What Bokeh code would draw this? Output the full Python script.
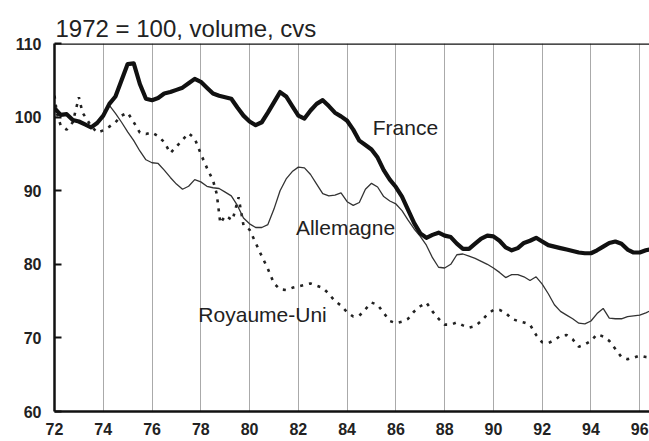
from bokeh.plotting import figure
from bokeh.models import Range1d, FixedTicker, Span, Label
from bokeh.embed import file_html
from bokeh.resources import INLINE

# ---- data ----
years_fr = [72.0, 72.25, 72.5, 72.75, 73.0, 73.25, 73.5, 73.75, 74.0, 74.25, 74.5, 74.75,
            75.0, 75.25, 75.5, 75.75, 76.0, 76.25, 76.5, 76.75, 77.0, 77.25, 77.5, 77.75,
            78.0, 78.25, 78.5, 78.75, 79.0, 79.25, 79.5, 79.75, 80.0, 80.25, 80.5, 80.75,
            81.0, 81.25, 81.5, 81.75, 82.0, 82.25, 82.5, 82.75, 83.0, 83.25, 83.5, 83.75,
            84.0, 84.25, 84.5, 84.75, 85.0, 85.25, 85.5, 85.75, 86.0, 86.25, 86.5, 86.75,
            87.0, 87.25, 87.5, 87.75, 88.0, 88.25, 88.5, 88.75, 89.0, 89.25, 89.5, 89.75,
            90.0, 90.25, 90.5, 90.75, 91.0, 91.25, 91.5, 91.75, 92.0, 92.25, 92.5, 92.75,
            93.0, 93.25, 93.5, 93.75, 94.0, 94.25, 94.5, 94.75, 95.0, 95.25, 95.5, 95.75,
            96.0, 96.25, 96.5]
france = [101.2, 100.3, 100.4, 99.6, 99.4, 99.0, 98.6, 99.2, 100.2, 101.8, 102.8, 105.0,
          107.2, 107.3, 104.5, 102.5, 102.3, 102.6, 103.2, 103.4, 103.7, 104.0, 104.6, 105.2,
          104.8, 104.0, 103.2, 102.9, 102.7, 102.5, 101.3, 100.2, 99.4, 98.9, 99.3, 100.6,
          102.0, 103.4, 102.8, 101.5, 100.2, 99.8, 100.9, 101.8, 102.3, 101.5, 100.6, 100.1,
          99.5, 98.3, 96.8, 96.2, 95.6, 94.5, 92.8, 91.5, 90.5, 89.2, 87.4, 85.6,
          84.2, 83.6, 84.0, 84.3, 83.9, 83.7, 82.8, 82.1, 82.1, 82.8, 83.5, 83.9,
          83.8, 83.2, 82.3, 81.9, 82.2, 82.9, 83.2, 83.6, 83.1, 82.6, 82.4, 82.2,
          82.0, 81.8, 81.6, 81.5, 81.5, 81.9, 82.4, 82.9, 83.1, 82.8, 82.0, 81.6,
          81.6, 81.9, 82.1]

years_de = years_fr
allemagne = [101.2, 100.3, 100.4, 99.6, 99.4, 99.0, 98.6, 99.2, 100.2, 101.6, 100.5, 99.3,
             98.0, 96.8, 95.4, 94.2, 93.8, 93.7, 92.8, 91.8, 90.9, 90.2, 90.6, 91.5,
             91.2, 90.6, 90.4, 90.3, 89.8, 89.3, 88.0, 86.3, 85.5, 85.0, 85.0, 85.4,
             87.5, 90.0, 91.6, 92.6, 93.2, 93.1, 92.2, 90.9, 89.6, 89.3, 89.4, 89.7,
             88.5, 88.0, 88.4, 90.2, 91.0, 90.5, 89.2, 88.6, 88.2, 87.3, 86.0, 84.8,
             83.8, 82.6, 80.9, 79.6, 79.5, 80.0, 81.3, 81.4, 81.1, 80.8, 80.4, 80.0,
             79.5, 78.9, 78.2, 78.6, 78.6, 78.3, 77.8, 78.3, 77.3, 76.0, 74.5, 73.6,
             73.1, 72.6, 72.0, 71.9, 72.3, 73.3, 74.0, 72.7, 72.6, 72.6, 72.9, 73.0,
             73.1, 73.4, 73.8]

years_uk = [72.0, 72.1, 72.25, 72.5, 72.75, 73.0, 73.15, 73.5, 73.75, 74.0, 74.25, 74.5,
            74.75, 75.0, 75.25, 75.5, 75.75, 76.0, 76.25, 76.5, 76.75, 77.0, 77.25, 77.5,
            77.75, 78.0, 78.25, 78.5, 78.65, 78.8, 79.0, 79.3, 79.55, 79.75, 80.0, 80.25,
            80.5, 80.75, 81.0, 81.25, 81.5, 81.75, 82.0, 82.25, 82.5, 82.75, 83.0, 83.25,
            83.5, 83.75, 84.0, 84.25, 84.5, 84.75, 85.0, 85.25, 85.5, 85.75, 86.0, 86.25,
            86.5, 86.75, 87.0, 87.25, 87.5, 87.75, 88.0, 88.25, 88.5, 88.75, 89.0, 89.25,
            89.5, 89.75, 90.0, 90.25, 90.5, 90.75, 91.0, 91.25, 91.5, 91.75, 92.0, 92.25,
            92.5, 92.75, 93.0, 93.25, 93.5, 93.75, 94.0, 94.25, 94.5, 94.75, 95.0, 95.25,
            95.5, 95.75, 96.0, 96.25, 96.5]
royaume_uni = [102.9, 100.5, 98.9, 98.3, 99.3, 102.7, 100.6, 98.8, 97.9, 98.2, 98.7, 99.3,
               100.2, 100.6, 99.3, 97.9, 97.7, 97.9, 97.4, 96.6, 95.1, 96.0, 96.9, 97.8,
               97.1, 95.0, 93.1, 91.4, 89.6, 85.6, 86.6, 86.0, 89.1, 85.3, 84.7, 82.9,
               81.1, 79.4, 77.4, 76.6, 76.5, 76.8, 77.0, 77.2, 77.4, 77.1, 76.8, 76.0,
               75.0, 74.4, 73.5, 72.9, 73.0, 73.9, 74.8, 74.5, 73.4, 72.3, 72.0, 72.2,
               72.6, 73.6, 74.3, 74.8, 73.6, 72.6, 71.8, 71.8, 72.1, 71.7, 71.4, 71.6,
               72.3, 73.2, 73.8, 73.8, 73.4, 72.6, 72.3, 72.1, 71.8, 70.4, 69.4, 69.3,
               69.7, 70.3, 70.4, 69.8, 68.8, 69.1, 69.6, 70.5, 70.2, 69.6, 68.5, 67.4,
               67.1, 67.3, 67.6, 67.4, 67.3]

x_ticks = [72, 74, 76, 78, 80, 82, 84, 86, 88, 90, 92, 94, 96]
y_ticks = [60, 70, 80, 90, 100, 110]
title_text = "1972 = 100, volume, cvs"
series_labels = ["France", "Allemagne", "Royaume-Uni"]
label_pos_x = [85.05, 81.9, 77.9]
label_pos_y = [98.6, 85.0, 73.2]

FONT = "Liberation Sans"

p = figure(width=649, height=441, output_backend="svg", toolbar_location=None,
           x_range=Range1d(72, 96.4), y_range=Range1d(60, 110),
           min_border_left=54, min_border_right=0, min_border_top=43, min_border_bottom=30)
p.outline_line_color = None
p.background_fill_color = "white"
p.border_fill_color = "white"

p.title.text = title_text
p.title.text_font = FONT
p.title.text_font_size = "24px"
p.title.text_font_style = "normal"
p.title.text_color = "#222222"
p.title.align = "left"
p.title.offset = 1
p.title.standoff = 4

# axes
p.xaxis.ticker = FixedTicker(ticks=x_ticks)
p.yaxis.ticker = FixedTicker(ticks=y_ticks)
for ax in (p.xaxis, p.yaxis):
    ax.axis_line_color = "#111111"
    ax.axis_line_width = 2.5
    ax.major_label_text_font = FONT
    ax.major_label_text_font_size = "16px"
    ax.major_label_text_font_style = "bold"
    ax.major_label_text_color = "#222222"
    ax.minor_tick_line_color = None
p.xaxis.major_tick_line_color = None
p.xaxis.major_tick_in = 0
p.xaxis.major_tick_out = 0
p.xaxis.major_label_standoff = 11
p.yaxis.major_tick_in = 7
p.yaxis.major_tick_out = 0
p.yaxis.major_tick_line_width = 2
p.yaxis.major_tick_line_color = "#111111"
p.yaxis.major_label_standoff = 13

p.xgrid.grid_line_color = "#a0a0a0"
p.xgrid.grid_line_width = 0.9
p.ygrid.grid_line_color = None

p.add_layout(Span(location=110, dimension="width", line_color="#111111", line_width=2.5))

# series
p.line(years_uk, royaume_uni, line_color="#222222", line_width=2.6, line_dash="3 6")
p.line(years_de, allemagne, line_color="#333333", line_width=1.3)
p.line(years_fr, france, line_color="#111111", line_width=4.2, line_join="round")

for t, lx, ly in zip(series_labels, label_pos_x, label_pos_y):
    p.add_layout(Label(x=lx, y=ly, text=t, text_font=FONT, text_font_size="21px",
                       text_color="#222222", text_baseline="middle", text_align="left"))

open("out.html", "w").write(file_html(p, INLINE))
